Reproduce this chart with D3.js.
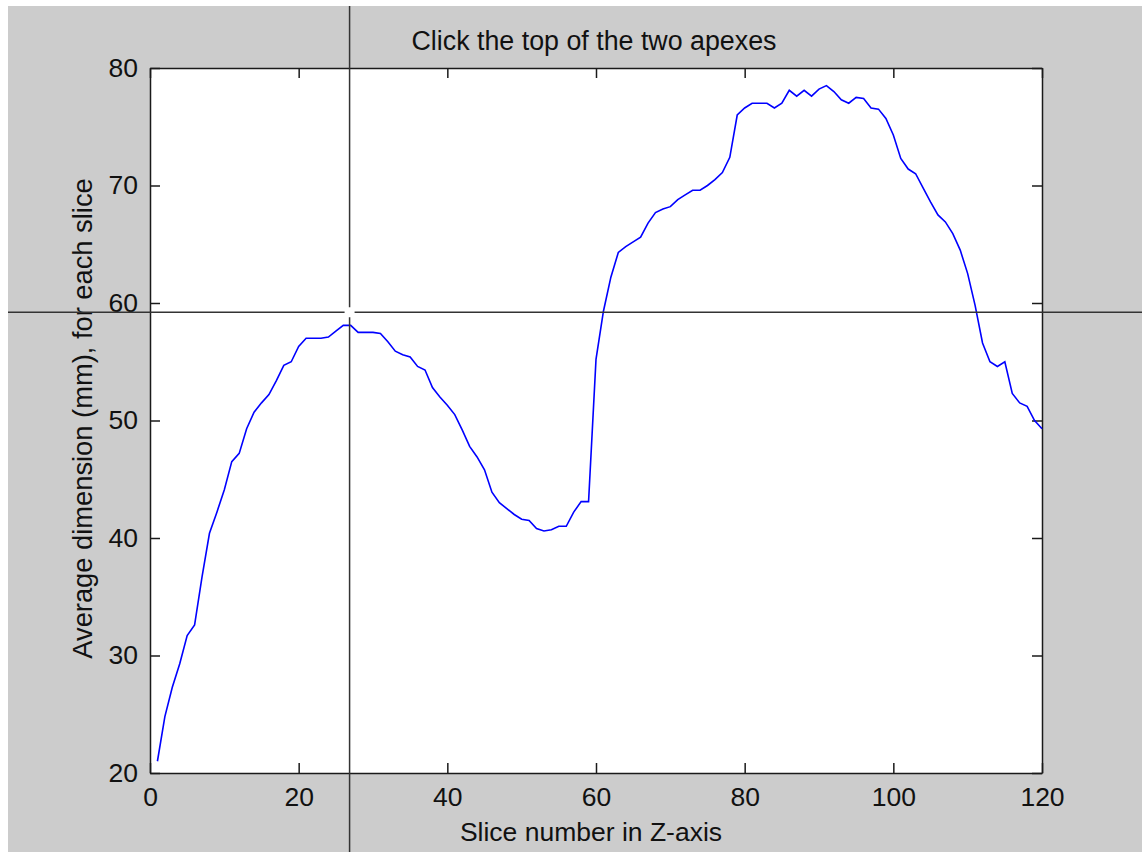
<!DOCTYPE html>
<html lang="en">
<head>
  <meta charset="UTF-8">
  <title>Click the top of the two apexes</title>
  <script src="https://d3js.org/d3.v7.min.js"></script>
  <style>
    body { margin: 0; background: #fff; }
    text { font-family: "Liberation Sans", Arial, sans-serif; fill: #111; }
    .tick text { font-size: 26px; }
    .axis path, .axis line { stroke: #1a1a1a; stroke-width: 1.5; }
  </style>
</head>
<body>
  <div id="chart"></div>

  <script>
    // average dimension (mm) per slice, slice 1..120
    const avgDim = [
      21.0, 24.8, 27.3, 29.3, 31.7, 32.6, 36.7, 40.4, 42.2, 44.1,
      46.5, 47.2, 49.3, 50.7, 51.5, 52.2, 53.4, 54.7, 55.0, 56.3,
      57.0, 57.0, 57.0, 57.1, 57.6, 58.1, 58.1, 57.5, 57.5, 57.5,
      57.4, 56.7, 55.9, 55.6, 55.4, 54.6, 54.3, 52.8, 52.0, 51.3,
      50.5, 49.2, 47.8, 46.9, 45.8, 43.9, 43.0, 42.5, 42.0, 41.6,
      41.5, 40.8, 40.6, 40.7, 41.0, 41.0, 42.2, 43.1, 43.1, 55.2,
      59.3, 62.2, 64.3, 64.8, 65.2, 65.6, 66.8, 67.7, 68.0, 68.2,
      68.8, 69.2, 69.6, 69.6, 70.0, 70.5, 71.1, 72.4, 76.0, 76.6,
      77.0, 77.0, 77.0, 76.6, 77.0, 78.1, 77.6, 78.1, 77.6, 78.2,
      78.5, 78.0, 77.3, 77.0, 77.5, 77.4, 76.6, 76.5, 75.7, 74.3,
      72.3, 71.4, 71.0, 69.8, 68.6, 67.5, 66.9, 65.9, 64.5, 62.5,
      59.8, 56.6, 55.0, 54.6, 55.0, 52.3, 51.5, 51.2, 50.0, 49.3
    ];
    const xTicks = [0, 20, 40, 60, 80, 100, 120];
    const yTicks = [20, 30, 40, 50, 60, 70, 80];
    const cursor = { slice: 26.85, value: 59.22 };

    const W = 1142, H = 852;
    const margin = { top: 68, right: 100, bottom: 79, left: 150 };

    const svg = d3.select("#chart").append("svg")
      .attr("width", W).attr("height", H);

    // figure background
    svg.append("rect").attr("x", 8).attr("y", 6)
      .attr("width", W - 8).attr("height", H - 6).attr("fill", "#cccccc");

    const x = d3.scaleLinear().domain([0, 120]).range([margin.left, W - margin.right]);
    const y = d3.scaleLinear().domain([20, 80]).range([H - margin.bottom, margin.top]);

    svg.append("rect")
      .attr("x", x(0)).attr("y", y(80))
      .attr("width", x(120) - x(0)).attr("height", y(20) - y(80))
      .attr("fill", "#fff");

    const tl = 10;
    svg.append("g").attr("class", "axis")
      .attr("transform", `translate(0,${y(20)})`)
      .call(d3.axisBottom(x).tickValues(xTicks).tickSizeInner(-tl).tickSizeOuter(0).tickPadding(14))
      .selectAll("text").attr("dy", "0.71em");
    svg.append("g").attr("class", "axis")
      .attr("transform", `translate(0,${y(80)})`)
      .call(d3.axisTop(x).tickValues(xTicks).tickSizeInner(-tl).tickSizeOuter(0).tickFormat(""));
    svg.append("g").attr("class", "axis")
      .attr("transform", `translate(${x(0)},0)`)
      .call(d3.axisLeft(y).tickValues(yTicks).tickSizeInner(-tl).tickSizeOuter(0).tickPadding(12));
    svg.append("g").attr("class", "axis")
      .attr("transform", `translate(${x(120)},0)`)
      .call(d3.axisRight(y).tickValues(yTicks).tickSizeInner(-tl).tickSizeOuter(0).tickFormat(""));

    svg.selectAll(".tick text").attr("fill", "#111").style("font-size", "26.5px");

    const line = d3.line()
      .x((d, i) => x(i + 1))
      .y(d => y(d));

    svg.append("path")
      .datum(avgDim)
      .attr("fill", "none")
      .attr("stroke", "#0000ff")
      .attr("stroke-width", 1.6)
      .attr("d", line);

    // labels
    svg.append("text")
      .attr("x", (x(0) + x(120)) / 2 - 2).attr("y", 50)
      .attr("text-anchor", "middle").style("font-size", "26.8px")
      .text("Click the top of the two apexes");
    svg.append("text")
      .attr("x", (x(0) + x(120)) / 2 - 5).attr("y", 841)
      .attr("text-anchor", "middle").style("font-size", "26.5px")
      .text("Slice number in Z-axis");
    svg.append("text")
      .attr("transform", `translate(92,${(y(20) + y(80)) / 2 - 2}) rotate(-90)`)
      .attr("text-anchor", "middle").style("font-size", "27.3px")
      .text("Average dimension (mm), for each slice");

    // crosshair cursor
    const cx = x(cursor.slice), cy = y(cursor.value), gap = 5;
    const ch = svg.append("g").attr("stroke", "#333").attr("stroke-width", 1.5);
    ch.append("line").attr("x1", cx).attr("x2", cx).attr("y1", 6).attr("y2", cy - gap);
    ch.append("line").attr("x1", cx).attr("x2", cx).attr("y1", cy + gap).attr("y2", H);
    ch.append("line").attr("y1", cy).attr("y2", cy).attr("x1", 8).attr("x2", cx - gap);
    ch.append("line").attr("y1", cy).attr("y2", cy).attr("x1", cx + gap).attr("x2", W);
  </script>
</body>
</html>
